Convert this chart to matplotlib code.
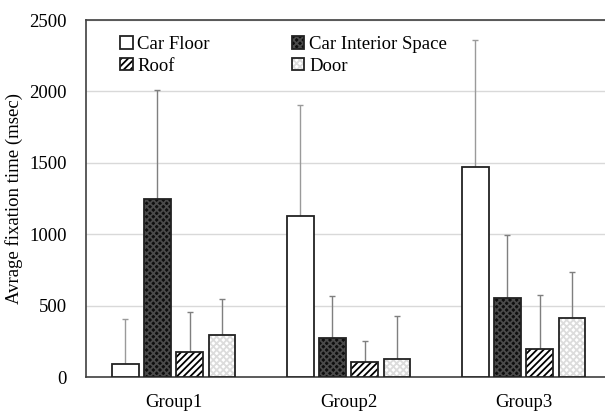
import matplotlib

matplotlib.use("Agg")
import matplotlib.pyplot as plt
import numpy as np

groups = ["Group1", "Group2", "Group3"]
areas = ["Car Floor", "Car Interior Space", "Roof", "Door"]

# mean fixation time (msec) per area, one list per group column
car_floor = [92, 1130, 1473]
car_interior = [1246, 272, 555]
roof = [175, 104, 198]
door = [294, 128, 411]

# upper error (std) added on top of the means
car_floor_err = [314, 775, 887]
car_interior_err = [764, 295, 439]
roof_err = [280, 150, 374]
door_err = [252, 301, 326]

y_ticks = [0, 500, 1000, 1500, 2000, 2500]

serif = ["Liberation Serif", "DejaVu Serif"]
plt.rcParams["font.family"] = serif
plt.rcParams["hatch.linewidth"] = 1.3

means = [car_floor, car_interior, roof, door]
errors = [car_floor_err, car_interior_err, roof_err, door_err]
styles = [
    dict(face="white", hatch=None, hcolor="white"),
    dict(face="#0e0e0e", hatch="xxxxx", hcolor="#4a4a4a"),
    dict(face="white", hatch="/////", hcolor="black"),
    dict(face="white", hatch="xxxxx", hcolor="#dcdcdc"),
]
err_colors = ["#9a9a9a", "#7f7f7f", "#7f7f7f", "#7f7f7f"]

fig = plt.figure(figsize=(6.05, 4.12), dpi=100)
ax = fig.add_axes([86 / 605, 35 / 412, 525 / 605, 357 / 412])

x = np.arange(len(groups))
width = 0.149
step = 0.183
handles = []
for i, (vals, errs, st) in enumerate(zip(means, errors, styles)):
    pos = x + (i - 1.5) * step
    ax.errorbar(pos, vals, yerr=[np.zeros(len(errs)), errs], fmt="none",
                ecolor=err_colors[i], elinewidth=1.0, capsize=2.5, capthick=1.0, zorder=2)
    fill = ax.bar(pos, vals, width, color=st["face"], hatch=st["hatch"],
                  edgecolor=st["hcolor"], linewidth=0, zorder=3)
    outline = ax.bar(pos, vals, width, fill=False, edgecolor="#222222",
                     linewidth=1.3, zorder=4)
    handles.append((fill[0], outline[0]))

ax.set_xlim(-0.5, 2.5)
ax.set_ylim(0, 2500)
ax.set_xticks(x, labels=groups)
ax.set_yticks(y_ticks)
ax.tick_params(axis="both", length=0, labelsize=13.5, colors="black")
ax.tick_params(axis="x", pad=12)
ax.tick_params(axis="y", pad=14)
ax.yaxis.grid(True, color="#d9d9d9", linewidth=1.0, zorder=0)
ax.set_axisbelow(True)
for side in ["left", "top", "bottom"]:
    ax.spines[side].set_color("#404040")
    ax.spines[side].set_linewidth(1.2)
ax.spines["right"].set_visible(False)
ax.set_ylabel("Avrage fixation time (msec)", fontsize=13.5, labelpad=4)

# legend fills column by column, so reorder to read row by row
order = [0, 2, 1, 3]
ax.legend([handles[k] for k in order], [areas[k] for k in order], ncol=2,
          loc="upper left", bbox_to_anchor=(0.035, 1.0), frameon=False,
          prop=dict(family=serif, size=13.5), handlelength=0.65, handleheight=0.65,
          handletextpad=0.25, columnspacing=4.4, labelspacing=0.25, borderaxespad=0.45)

fig.savefig("out.png", dpi=100)
plt.close(fig)
